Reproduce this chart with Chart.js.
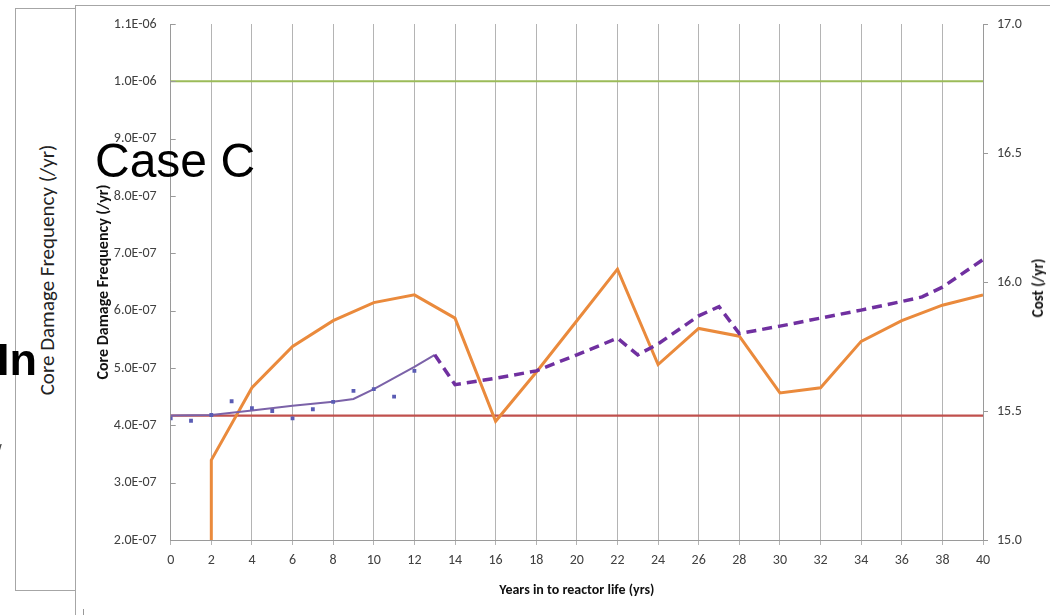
<!DOCTYPE html>
<html>
<head>
<meta charset="utf-8">
<script src="https://cdn.jsdelivr.net/npm/chart.js@4"></script>
<style>
  body { margin: 0; width: 1050px; height: 615px; overflow: hidden; background: #fff; position: relative; }
  .abs { position: absolute; }
  #box1 { left: 15px; top: 8px; width: 70px; height: 581px; border: 1px solid #a6a6a6; }
  #box2 { left: 75px; top: 5px; width: 1000px; height: 640px; border-left: 1px solid #a6a6a6; border-top: 1px solid #a6a6a6; background: #fff; }
  #mark { left: 83px; top: 609px; width: 1px; height: 6px; background: #999; }
  #chart { left: 0; top: 0; }
  .rot { white-space: nowrap; transform: translate(-50%, -50%) rotate(-90deg); }
  #outerTitle { left: 47px; top: 270px; font: 21px Carlito, "Liberation Sans Narrow", "Open Sans", sans-serif; color: #222; }
  #costTitle { left: 1038px; top: 288px; font: bold 15px Carlito, "Liberation Sans Narrow", "Open Sans", sans-serif; color: #111; }
  #caseC { left: 95px; top: 137px; font: 48px "Liberation Sans", Arial, sans-serif; line-height: 1; color: #000; }
  #inText { left: -3px; top: 337px; font: bold 45px "Liberation Sans", Arial, sans-serif; line-height: 1; color: #000; }
  #slash { left: -3px; top: 441px; font: 17px "Liberation Sans", Arial, sans-serif; color: #444; }
</style>
</head>
<body>
<div id="box1" class="abs"></div>
<div id="box2" class="abs"></div>
<div id="mark" class="abs"></div>
<div id="outerTitle" class="abs rot">Core Damage Frequency (/yr)</div>
<canvas id="chart" class="abs" width="1050" height="615"></canvas>
<div id="costTitle" class="abs rot">Cost (/yr)</div>
<div id="caseC" class="abs">Case C</div>
<div id="inText" class="abs">In</div>
<div id="slash" class="abs">/</div>
<script>
// axis ticks
const yearTicks = [0, 2, 4, 6, 8, 10, 12, 14, 16, 18, 20, 22, 24, 26, 28, 30, 32, 34, 36, 38, 40];
const cdfTickValues = [2e-7, 3e-7, 4e-7, 5e-7, 6e-7, 7e-7, 8e-7, 9e-7, 1e-6, 1.1e-6];
const cdfTickLabels = ['2.0E-07', '3.0E-07', '4.0E-07', '5.0E-07', '6.0E-07', '7.0E-07', '8.0E-07', '9.0E-07', '1.0E-06', '1.1E-06'];
const costTickValues = [15.0, 15.5, 16.0, 16.5, 17.0];
const costTickLabels = ['15.0', '15.5', '16.0', '16.5', '17.0'];

// cost (right axis)
const costYears = [2, 2, 4, 6, 8, 10, 12, 14, 16, 18, 20, 22, 24, 26, 28, 30, 32, 34, 36, 38, 40];
const costValues = [15.0, 15.31, 15.59, 15.75, 15.85, 15.92, 15.95, 15.86, 15.46, 15.65, 15.85, 16.05, 15.68, 15.82, 15.79, 15.57, 15.59, 15.77, 15.85, 15.91, 15.95];

// core damage frequency (left axis)
const cdfYears = [0, 2, 4, 6, 8, 9, 10, 12, 13];
const cdfValues = [4.17e-7, 4.18e-7, 4.26e-7, 4.34e-7, 4.41e-7, 4.46e-7, 4.63e-7, 5.02e-7, 5.23e-7];
const forecastYears = [13, 14, 16, 18, 20, 22, 23, 24, 26, 27, 28, 30, 32, 34, 36, 37, 38, 40];
const forecastValues = [5.23e-7, 4.71e-7, 4.82e-7, 4.95e-7, 5.23e-7, 5.52e-7, 5.23e-7, 5.42e-7, 5.91e-7, 6.07e-7, 5.60e-7, 5.73e-7, 5.87e-7, 6.01e-7, 6.16e-7, 6.24e-7, 6.41e-7, 6.89e-7];
const observedYears = [0, 1, 2, 3, 4, 5, 6, 7, 8, 9, 10, 11, 12];
const observedValues = [4.12e-7, 4.08e-7, 4.18e-7, 4.42e-7, 4.30e-7, 4.25e-7, 4.12e-7, 4.28e-7, 4.41e-7, 4.60e-7, 4.63e-7, 4.50e-7, 4.95e-7];

// reference levels
const limitYears = [0, 40];
const limitValue = 1.0e-6;
const baseValue = 4.17e-7;

const FONT = 'Carlito, "Liberation Sans Narrow", "Open Sans", sans-serif';
const GRID = '#b4b4b4';
const AXIS = '#9a9a9a';

const toPoints = (xs, ys) => xs.map((x, i) => ({ x: x, y: ys[i] }));
const flat = (xs, v) => xs.map(x => ({ x: x, y: v }));

// small inward tick marks on the left axis
const leftTicks = {
  id: 'leftTicks',
  afterDatasetsDraw(chart) {
    const ctx = chart.ctx;
    const y = chart.scales.y;
    ctx.save();
    ctx.strokeStyle = AXIS;
    ctx.lineWidth = 1;
    y.ticks.forEach(t => {
      const py = Math.round(y.getPixelForValue(t.value)) + 0.5;
      ctx.beginPath();
      ctx.moveTo(y.right, py);
      ctx.lineTo(y.right + 5, py);
      ctx.stroke();
    });
    ctx.restore();
  }
};

new Chart(document.getElementById('chart'), {
  type: 'line',
  data: {
    datasets: [
      {
        data: toPoints(observedYears, observedValues),
        yAxisID: 'y',
        showLine: false,
        pointStyle: 'rect',
        pointRadius: 2.7,
        backgroundColor: '#5a5cb4',
        borderColor: '#5a5cb4',
        borderWidth: 0
      },
      {
        data: toPoints(forecastYears, forecastValues),
        yAxisID: 'y',
        borderColor: '#7030a0',
        borderWidth: 3.5,
        borderDash: [10, 6],
        pointRadius: 0
      },
      {
        data: toPoints(cdfYears, cdfValues),
        yAxisID: 'y',
        borderColor: '#7b62a8',
        borderWidth: 2,
        pointRadius: 0
      },
      {
        data: toPoints(costYears, costValues),
        yAxisID: 'y1',
        borderColor: '#ea8a3c',
        borderWidth: 3,
        pointRadius: 0
      },
      {
        data: flat(limitYears, baseValue),
        yAxisID: 'y',
        borderColor: '#c0504d',
        borderWidth: 2.2,
        pointRadius: 0
      },
      {
        data: flat(limitYears, limitValue),
        yAxisID: 'y',
        borderColor: '#9bbb59',
        borderWidth: 2,
        pointRadius: 0
      }
    ]
  },
  options: {
    responsive: false,
    animation: false,
    layout: { padding: { top: 24, left: 0, right: 0, bottom: 0 } },
    plugins: {
      legend: { display: false },
      tooltip: { enabled: false }
    },
    scales: {
      x: {
        type: 'linear',
        min: 0,
        max: 40,
        afterBuildTicks: s => { s.ticks = yearTicks.map(v => ({ value: v })); },
        afterFit: s => { s.height = 75; },
        grid: { color: GRID, lineWidth: 1, tickLength: 5 },
        border: { color: AXIS },
        ticks: { padding: 7, color: '#404040', font: { family: FONT, size: 14 } },
        title: {
          display: true,
          text: 'Years in to reactor life (yrs)',
          color: '#111',
          font: { family: FONT, size: 14, weight: 'bold' },
          padding: { top: 0, bottom: 16 }
        }
      },
      y: {
        position: 'left',
        min: 2e-7,
        max: 1.1e-6,
        afterBuildTicks: s => { s.ticks = cdfTickValues.map(v => ({ value: v })); },
        afterFit: s => { s.width = 170.7; },
        grid: { drawOnChartArea: false, drawTicks: false },
        border: { color: AXIS },
        ticks: {
          padding: 14,
          color: '#404040',
          font: { family: FONT, size: 14 },
          callback: (v, i) => cdfTickLabels[i]
        },
        title: {
          display: true,
          text: 'Core Damage Frequency (/yr)',
          color: '#111',
          font: { family: FONT, size: 16, weight: 'bold' },
          padding: { top: 94, bottom: 0 }
        }
      },
      y1: {
        position: 'right',
        min: 15,
        max: 17,
        afterBuildTicks: s => { s.ticks = costTickValues.map(v => ({ value: v })); },
        afterFit: s => { s.width = 67; },
        grid: { drawOnChartArea: false, color: AXIS, tickLength: 5 },
        border: { color: AXIS },
        ticks: {
          padding: 9,
          color: '#404040',
          font: { family: FONT, size: 14 },
          callback: (v, i) => costTickLabels[i]
        }
      }
    }
  },
  plugins: [leftTicks]
});
</script>
</body>
</html>
